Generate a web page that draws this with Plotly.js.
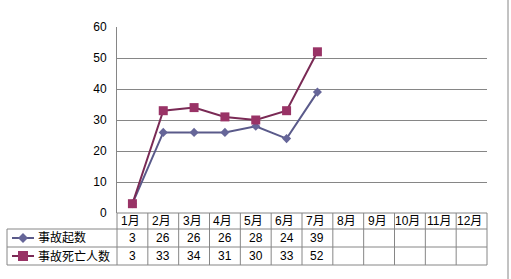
<!DOCTYPE html>
<html>
<head>
<meta charset="utf-8">
<script src="https://cdn.plot.ly/plotly-3.0.1.min.js"></script>
<style>html,body{margin:0;padding:0;background:#fff;}#chart{width:511px;height:279px;}</style>
</head>
<body>
<div id="chart"></div>
<script>
const months = ['1月','2月','3月','4月','5月','6月','7月','8月','9月','10月','11月','12月'];
const seriesNames = ['事故起数','事故死亡人数'];
const accidents = [3, 26, 26, 26, 28, 24, 39];
const deaths = [3, 33, 34, 31, 30, 33, 52];
const yTicks = [0, 10, 20, 30, 40, 50, 60];

// geometry (pixels)
const W = 511, H = 279;
const L = 117, R = 487, T = 27, B = 213;
const rowTops = [213, 229, 247, 265];
const px = x => (x - L) / (R - L);
const py = y => (B - y) / (B - T);
const FONT = 'Liberation Sans, Arial, "Noto Sans CJK SC", sans-serif';
const grid = '#868686';
const c1 = '#666699', c1l = '#5a5a8a';
const c2 = '#993366', c2l = '#7a2a55';

const shapes = [];
const line = (x0, y0, x1, y1) => shapes.push({type:'line', xref:'paper', yref:'paper',
  x0: px(x0), y0: py(y0), x1: px(x1), y1: py(y1), line:{color:grid, width:1}});
// table horizontal lines
line(L, rowTops[0], R, rowTops[0]);
for (let r = 1; r < rowTops.length; r++) line(7, rowTops[r], R, rowTops[r]);
// table vertical lines
line(7, rowTops[1], 7, rowTops[3]);
for (let k = 0; k <= months.length; k++) {
  const x = L + k * (R - L) / months.length;
  line(x, rowTops[0], x, rowTops[3]);
}
// outer right border
line(508, 0, 508, H);
// legend glyphs
const rowMid = r => (rowTops[r] + rowTops[r + 1]) / 2;
shapes.push({type:'line', xref:'paper', yref:'paper', x0:px(12), x1:px(34), y0:py(rowMid(1)), y1:py(rowMid(1)), line:{color:c1l, width:2}});
shapes.push({type:'line', xref:'paper', yref:'paper', x0:px(12), x1:px(34), y0:py(rowMid(2)), y1:py(rowMid(2)), line:{color:c2l, width:2}});
(function(){
  const cx = 23, cy = rowMid(1), d = 5;
  shapes.push({type:'path', xref:'paper', yref:'paper',
    path:`M ${px(cx-d)} ${py(cy)} L ${px(cx)} ${py(cy-d)} L ${px(cx+d)} ${py(cy)} L ${px(cx)} ${py(cy+d)} Z`,
    fillcolor:c1, line:{color:c1, width:0}});
  const cy2 = rowMid(2), s = 5;
  shapes.push({type:'rect', xref:'paper', yref:'paper', x0:px(cx-s), x1:px(cx+s), y0:py(cy2+s), y1:py(cy2-s),
    fillcolor:c2, line:{color:c2, width:0}});
})();

const annotations = [];
months.forEach((m, i) => annotations.push({xref:'x', yref:'paper', x:i, y:py(rowMid(0)), text:m,
  showarrow:false, xanchor:'center', yanchor:'middle', xshift:-2, font:{family:FONT, size:12, color:'#000'}}));
[accidents, deaths].forEach((arr, r) => {
  arr.forEach((v, i) => annotations.push({xref:'x', yref:'paper', x:i, y:py(rowMid(r + 1)), text:String(v),
    showarrow:false, xanchor:'center', yanchor:'middle', font:{family:FONT, size:12, color:'#000'}}));
  annotations.push({xref:'paper', yref:'paper', x:px(36), y:py(rowMid(r + 1)), text:seriesNames[r],
    showarrow:false, xanchor:'left', yanchor:'middle', font:{family:FONT, size:12, color:'#000'}});
});

const traces = [
  {type:'scatter', mode:'lines+markers', name:seriesNames[0], x:months.slice(0, accidents.length), y:accidents,
   line:{color:c1l, width:2}, marker:{symbol:'diamond', size:7, color:c1}},
  {type:'scatter', mode:'lines+markers', name:seriesNames[1], x:months.slice(0, deaths.length), y:deaths,
   line:{color:c2l, width:2}, marker:{symbol:'square', size:9, color:c2}}
];

const layout = {
  width:W, height:H, autosize:false,
  margin:{l:L, r:W - R, t:T, b:H - B, pad:0},
  paper_bgcolor:'#fff', plot_bgcolor:'#fff',
  showlegend:false,
  xaxis:{type:'category', categoryorder:'array', categoryarray:months, range:[-0.5, months.length - 0.5],
    showticklabels:false, showgrid:false, zeroline:false, showline:false, ticks:''},
  yaxis:{range:[0, 60], tickvals:yTicks, ticktext:yTicks.map(String), showgrid:true, gridcolor:grid, gridwidth:1,
    zeroline:false, showline:true, linecolor:grid, linewidth:1, ticks:'', ticklabelstandoff:7,
    tickfont:{family:FONT, size:12, color:'#000'}},
  shapes, annotations
};
Plotly.newPlot('chart', traces, layout, {staticPlot:true, displayModeBar:false});
</script>
</body>
</html>
